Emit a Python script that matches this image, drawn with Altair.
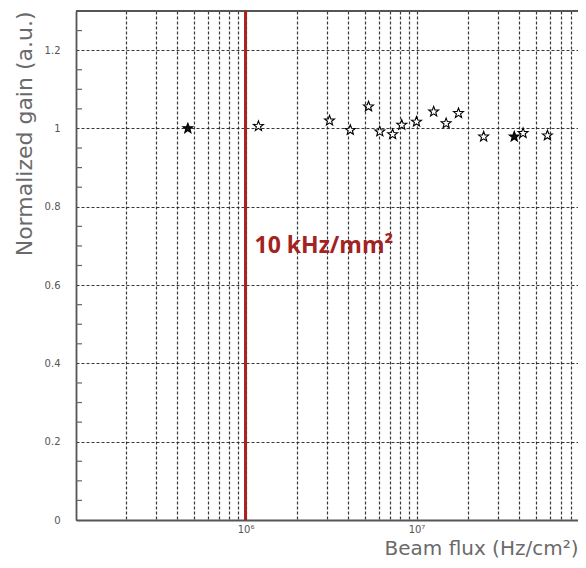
import math
import altair as alt
import pandas as pd

# ---- data ----
flux = [4.6e5, 1.19e6, 3.1e6, 4.1e6, 5.24e6, 6.1e6, 7.25e6, 8.2e6,
        1.0e7, 1.26e7, 1.49e7, 1.76e7, 2.47e7, 3.73e7, 4.2e7, 5.83e7]
gain = [1.000, 1.006, 1.020, 0.996, 1.056, 0.992, 0.985, 1.009,
        1.017, 1.043, 1.013, 1.039, 0.979, 0.979, 0.988, 0.982]
style = ["filled", "open", "open", "open", "open", "open", "open", "open",
         "open", "open", "open", "open", "open", "filled", "open", "open"]

limit_flux = [1e6]
limit_label = ["10 kHz/mm²"]
limit_label_y = [0.70]

x_domain = [1.02e5, 8.8e7]   # visible part of the (cropped) log axis
x_grid_values = [m * 10 ** e for e in (5, 6, 7) for m in range(1, 10)
                 if 1.02e5 < m * 10 ** e < 8.8e7]
y_major_values = [0, 0.2, 0.4, 0.6, 0.8, 1.0, 1.2]
y_minor_values = [round(0.05 * i, 2) for i in range(1, 27) if (i % 4) != 0]
frame_top = [1.3]

pts = pd.DataFrame({"flux": flux, "gain": gain, "style": style})
line_df = pd.DataFrame({"flux": limit_flux})
text_df = pd.DataFrame({"flux": limit_flux, "gain": limit_label_y, "label": limit_label})
minor_df = pd.DataFrame({"gain": y_minor_values})
top_df = pd.DataFrame({"gain": frame_top})

# star symbol shape
pts_path = []
for k in range(10):
    r = 1.0 if k % 2 == 0 else 0.42
    a = math.radians(-90 + 36 * k)
    pts_path.append(f"{r * math.cos(a):.3f},{r * math.sin(a):.3f}")
star = "M" + " L".join(pts_path) + " Z"

W, H = 502, 509
xscale = alt.Scale(type="log", domain=x_domain, nice=False)
yscale = alt.Scale(domain=[0, 1.3], nice=False, zero=False)

grid_style = dict(grid=True, gridDash=[3, 2], gridColor="#222", gridOpacity=0.9, gridWidth=1.2)
frame_style = dict(domain=True, domainColor="#555", domainWidth=1.8)

xaxis = alt.Axis(
    values=x_grid_values,
    labelExpr="datum.value == 1000000 ? '10⁶' : (datum.value == 10000000 ? '10⁷' : '')",
    ticks=False,
    labelFontSize=10, labelColor="#555", labelPadding=4, labelFont="DejaVu Sans",
    labelOverlap=False, labelFlush=False,
    title="Beam flux (Hz/cm²)", titleAnchor="end", titleAlign="right",
    titleFontSize=20, titleFont="DejaVu Sans", titleFontWeight="normal",
    titleColor="#6a6a6a", titlePadding=4,
    **grid_style, **frame_style,
)
yaxis = alt.Axis(
    values=y_major_values, format="~g",
    ticks=False,
    labelFontSize=10, labelColor="#555", labelPadding=16, labelFont="DejaVu Sans",
    labelOverlap=False, labelFlush=False,
    title="Normalized gain (a.u.)", titleAnchor="end",
    titleFontSize=22, titleFont="DejaVu Sans", titleFontWeight="normal",
    titleColor="#6a6a6a", titlePadding=8,
    **grid_style, **frame_style,
)

points = alt.Chart(pts).mark_point(shape=star, size=110, strokeWidth=1.1, stroke="black", opacity=1).encode(
    x=alt.X("flux:Q", scale=xscale, axis=xaxis),
    y=alt.Y("gain:Q", scale=yscale, axis=yaxis),
    fill=alt.Fill("style:N", scale=alt.Scale(domain=["filled", "open"], range=["#111", "white"]), legend=None),
)

minor = alt.Chart(minor_df).mark_rule(color="#666", strokeWidth=1.2).encode(
    y=alt.Y("gain:Q", scale=yscale, axis=yaxis),
    x=alt.value(0), x2=alt.value(6),
)

top_frame = alt.Chart(top_df).mark_rule(color="#555", strokeWidth=1.8).encode(
    y=alt.Y("gain:Q", scale=yscale, axis=yaxis),
    x=alt.value(0), x2=alt.value(W),
)

redline = alt.Chart(line_df).mark_rule(color="#a8231f", strokeWidth=3).encode(
    x=alt.X("flux:Q", scale=xscale, axis=xaxis),
)

label = alt.Chart(text_df).mark_text(
    align="left", baseline="middle", dx=9, font="Open Sans", fontWeight="bold",
    fontSize=23, color="#a32222",
).encode(
    x=alt.X("flux:Q", scale=xscale, axis=xaxis),
    y=alt.Y("gain:Q", scale=yscale, axis=yaxis),
    text="label:N",
)

chart = alt.layer(minor, top_frame, redline, points, label).properties(
    width=W, height=H,
    autosize=alt.AutoSizeParams(type="none"),
    padding={"left": 68, "top": 3, "right": 0, "bottom": 40},
    background="white",
).configure_view(strokeWidth=0)

chart.save("out.html", embed_options={"renderer": "svg", "actions": False})
